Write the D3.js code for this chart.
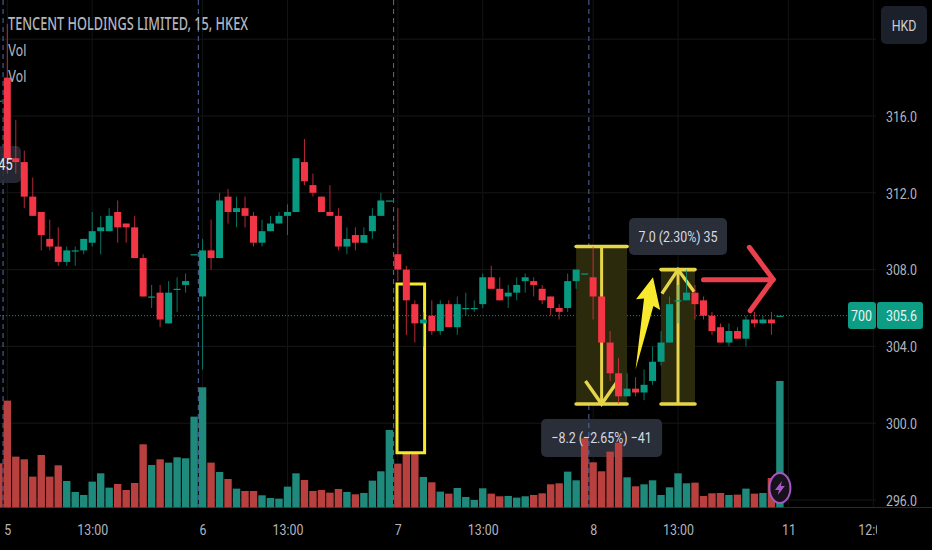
<!DOCTYPE html>
<html>
<head>
<meta charset="utf-8">
<script src="https://d3js.org/d3.v7.min.js"></script>
<style>
  html, body { margin: 0; padding: 0; background: #000; overflow: hidden; }
  svg { display: block; }
  text { font-family: Roboto, sans-serif; }
</style>
</head>
<body>
<div id="chart"></div>
<script>
// bars run from -1 (last bar of the previous session) to 91
const opens = [316.8,
  318.0,313.8,313.6,311.8,311.0,309.6,309.2,308.4,309.0,309.0,
  309.4,310.0,310.0,311.0,310.4,310.2,308.6,306.6,306.8,305.2,
  307.0,307.2,308.8,306.6,309.0,308.6,311.8,311.0,311.2,310.8,
  309.4,310.0,310.4,310.8,311.0,313.6,312.4,311.8,311.0,310.8,
  309.2,309.8,309.4,310.0,310.8,311.6,308.8,308.0,306.2,305.2,
  305.6,304.8,306.2,305.0,306.0,306.0,306.2,307.6,307.0,306.6,
  306.8,307.4,307.4,307.0,306.6,306.0,306.0,307.4,307.8,307.6,
  306.6,304.2,302.6,301.4,301.8,301.6,302.2,303.2,304.2,306.4,
  306.4,306.8,306.4,305.6,305.0,304.2,304.8,304.4,305.4,305.2,
  305.4,305.6];
const highs = [316.8,
  320.8,315.8,314.2,312.8,311.0,310.6,310.2,309.2,309.2,309.6,
  311.0,310.8,311.2,311.6,310.4,310.8,308.8,307.2,307.2,307.4,
  307.6,307.8,308.8,309.6,310.6,312.0,312.2,311.8,311.8,311.0,
  310.6,310.8,311.0,311.4,313.8,314.8,313.0,311.8,312.4,311.2,
  310.2,310.2,310.2,311.2,312.0,311.6,311.2,308.2,306.4,305.8,
  306.4,306.4,306.4,306.6,306.8,306.4,307.8,308.2,307.6,307.2,
  307.6,307.8,307.6,307.2,306.6,306.2,307.8,308.0,307.8,309.2,
  306.6,304.8,303.4,302.6,302.4,302.8,304.0,304.8,306.6,307.2,
  308.0,307.2,306.6,305.8,305.2,305.2,305.0,305.6,305.8,305.6,
  305.8,305.6];
const lows = [316.8,
  313.0,313.0,311.2,310.8,309.0,309.0,308.2,308.2,308.2,308.8,
  309.2,308.8,310.0,309.4,309.4,308.6,306.6,306.0,305.0,305.2,
  305.8,306.8,308.8,302.8,308.0,308.6,310.4,310.2,310.2,309.2,
  309.2,310.0,310.4,309.8,311.0,312.4,311.8,311.0,310.8,309.0,
  308.8,309.0,309.4,309.6,310.8,311.6,307.4,304.6,304.2,304.0,
  304.6,304.6,305.0,304.6,305.6,305.8,306.0,307.0,306.4,306.0,
  306.4,306.8,306.6,306.2,305.6,305.4,305.8,307.0,307.8,305.4,
  304.2,302.2,301.0,301.4,301.4,301.2,302.0,303.0,304.2,305.2,
  306.4,305.4,305.4,304.6,304.2,304.0,304.4,304.0,305.0,305.2,
  304.6,305.6];
const closes = [316.8,
  313.8,313.6,311.8,310.8,309.8,309.2,308.4,309.0,309.0,309.6,
  310.0,310.2,310.8,310.2,310.2,308.6,306.6,306.6,305.4,306.8,
  307.0,307.4,308.8,309.0,308.6,311.6,311.0,311.2,310.8,309.4,
  310.0,310.4,310.8,311.0,313.8,312.6,312.0,311.0,310.8,309.2,
  309.6,309.4,309.8,310.8,311.6,311.6,308.0,306.4,305.2,305.4,
  304.8,306.2,305.0,306.2,306.0,306.0,307.6,307.0,306.4,306.8,
  307.2,307.6,307.2,306.4,306.0,305.8,307.4,308.0,307.8,306.6,
  304.2,302.6,301.4,301.8,301.6,302.0,303.2,304.2,306.2,306.4,
  306.8,306.2,305.6,304.8,304.2,304.8,304.4,305.4,305.2,305.4,
  305.2,305.6];
const volumes = [132,
  320,152,144,92,157,92,126,79,46,37,
  77,102,59,70,52,73,189,127,144,134,
  150,147,272,360,134,106,85,56,49,49,
  36,28,26,62,102,82,49,52,44,55,
  46,39,43,80,108,232,131,162,164,91,
  75,47,41,58,31,22,57,41,33,34,
  29,33,37,42,69,72,107,81,207,135,
  108,167,194,90,63,69,81,37,60,102,
  72,74,34,42,43,37,38,56,41,43,
  88,379];
// flat bars whose volume was painted red
const redVolumeBars = [-1, 68];

const priceTicks = [320, 316, 312, 308, 304, 300, 296];
const timeBars = [0, 10, 23, 33, 46, 56, 69, 79, 92, 102];
const timeLabels = ["5", "13:00", "6", "13:00", "7", "13:00", "8", "13:00", "11", "12:00"];
const sessionBreaks = [-0.5, 22.5, 45.5, 68.5];

const titleText = "TENCENT HOLDINGS LIMITED, 15, HKEX";
const lastPrice = 305.6;

// measure tools drawn on the chart
const drop = {from: 67, to: 73, mid: 70, top: 309.2, bottom: 301.0, label: "\u22128.2 (\u22122.65%) \u221241"};
const rise = {from: 77, to: 81, mid: 79, top: 308.0, bottom: 301.0, label: "7.0 (2.30%) 35"};
const yellowBox = {from: 45.9, to: 49.15, top: 307.25, bottom: 298.46};
const yellowArrow = [[74.0,302.8],[75.0,306.5],[74.05,306.45],[76.05,307.6],[76.9,305.9],[76.1,306.1]];
const redShaft = [[82.0,307.47],[90.2,307.47]];
const redHead = [[87.4,309.16],[90.2,307.5],[87.5,305.86]];

const width = 932, height = 550;
const up = "#089981", down = "#f23645";
const volUp = "#1f8a7c", volDown = "#b8413f";

const svg = d3.select("#chart").append("svg").attr("width", width).attr("height", height);
svg.append("rect").attr("width", width).attr("height", height).attr("fill", "#000");

const x = d3.scaleLinear().domain([0, 91]).range([7.3, 779.9]);
const y = d3.scaleLinear().domain([296, 316]).range([500, 116]);
const vy = d3.scaleLinear().domain([0, 360]).range([507.3, 387.3]);

const isUp = i => closes[i] >= opens[i];
const volIsUp = i => isUp(i) && !redVolumeBars.includes(i - 1);

// grid
svg.append("g").selectAll("line").data(priceTicks).enter().append("line")
  .attr("x1", 0).attr("x2", 876).attr("y1", d => y(d)).attr("y2", d => y(d))
  .attr("stroke", "#171717");
svg.append("g").selectAll("line").data(timeBars).enter().append("line")
  .attr("x1", d => x(d)).attr("x2", d => x(d)).attr("y1", 0).attr("y2", 507)
  .attr("stroke", "#141414");
svg.append("line").attr("x1", 0).attr("x2", width).attr("y1", 507.5).attr("y2", 507.5)
  .attr("stroke", "#2c2c2c");

// label of the drop sits under the volume bars, its text goes above them
function labelBox(tool, w, h, top) {
  svg.append("rect")
    .attr("x", x(tool.mid) - w / 2).attr("y", top).attr("width", w).attr("height", h)
    .attr("rx", 5).attr("fill", "#2a2e39");
}
labelBox(drop, 121, 38, 419);

// volume
svg.append("g").selectAll("rect").data(volumes).enter().append("rect")
  .attr("x", (d, i) => x(i - 1) - 3.7)
  .attr("width", 7.4)
  .attr("y", d => vy(d))
  .attr("height", d => vy(0) - vy(d))
  .attr("fill", (d, i) => volIsUp(i) ? volUp : volDown);

// session breaks
svg.append("g").selectAll("line").data(sessionBreaks).enter().append("line")
  .attr("x1", d => x(d)).attr("x2", d => x(d)).attr("y1", 0).attr("y2", 507)
  .attr("stroke", "#4f6ea8").attr("stroke-dasharray", "5,4");

// current price line
svg.append("line").attr("x1", 0).attr("x2", 876).attr("y1", y(lastPrice)).attr("y2", y(lastPrice))
  .attr("stroke", "#089981").attr("stroke-dasharray", "1,2");

// drawings
function measure(tool) {
  const g = svg.append("g");
  const yellow = "#e6d548";
  g.append("rect")
    .attr("x", x(tool.from)).attr("width", x(tool.to) - x(tool.from))
    .attr("y", y(tool.top)).attr("height", y(tool.bottom) - y(tool.top))
    .attr("fill", "#2c2a0d");
  [tool.top, tool.bottom].forEach(p => {
    g.append("line").attr("x1", x(tool.from)).attr("x2", x(tool.to))
      .attr("y1", y(p)).attr("y2", y(p))
      .attr("stroke", yellow).attr("stroke-width", 3.6).attr("stroke-linecap", "round");
  });
  g.append("line").attr("x1", x(tool.mid)).attr("x2", x(tool.mid))
    .attr("y1", y(tool.top)).attr("y2", y(tool.bottom))
    .attr("stroke", yellow).attr("stroke-width", 3);
  return g;
}
const line = d3.line().x(d => x(d[0])).y(d => y(d[1]));
const dropTool = measure(drop);
dropTool.append("path")
  .attr("d", line([[68.1, 302.2], [drop.mid, drop.bottom], [71.9, 302.2]]))
  .attr("fill", "none").attr("stroke", "#e6d548").attr("stroke-width", 3.4);
const riseTool = measure(rise);
riseTool.append("path")
  .attr("d", line([[77.1, 306.75], [rise.mid, rise.top], [80.9, 306.85]]))
  .attr("fill", "none").attr("stroke", "#e6d548").attr("stroke-width", 3.4);

svg.append("rect")
  .attr("x", x(yellowBox.from)).attr("width", x(yellowBox.to) - x(yellowBox.from))
  .attr("y", y(yellowBox.top)).attr("height", y(yellowBox.bottom) - y(yellowBox.top))
  .attr("fill", "none").attr("stroke", "#f5e92c").attr("stroke-width", 3);

svg.append("path").attr("d", line(yellowArrow) + "Z").attr("fill", "#f8e92e");
[redShaft, redHead].forEach(pts => {
  svg.append("path").attr("d", line(pts))
    .attr("fill", "none").attr("stroke", "#ec3f4d").attr("stroke-width", 5)
    .attr("stroke-linecap", "round").attr("stroke-linejoin", "miter");
});

// price label on the far left, cut by the edge
svg.append("rect").attr("x", -10).attr("y", 146).attr("width", 31).attr("height", 37)
  .attr("rx", 5).attr("fill", "#2a2e39").attr("opacity", 0.85);

// candles
const candles = svg.append("g").selectAll("g").data(closes).enter().append("g");
candles.append("line")
  .attr("x1", (d, i) => x(i - 1)).attr("x2", (d, i) => x(i - 1))
  .attr("y1", (d, i) => y(highs[i])).attr("y2", (d, i) => y(lows[i]))
  .attr("stroke", (d, i) => isUp(i) ? up : down).attr("stroke-opacity", 0.75);
candles.append("rect")
  .attr("x", (d, i) => x(i - 1) - 3.5)
  .attr("width", 7)
  .attr("y", (d, i) => y(Math.max(opens[i], closes[i])))
  .attr("height", (d, i) => Math.max(1.2, Math.abs(y(opens[i]) - y(closes[i]))))
  .attr("fill", (d, i) => isUp(i) ? up : down);

// narrow text, the picture is squeezed sideways
function label(txt, cx, cy, size, color, anchor) {
  return svg.append("text")
    .attr("transform", "translate(" + cx + "," + cy + ") scale(0.8,1)")
    .attr("text-anchor", anchor || "middle")
    .attr("dominant-baseline", "central")
    .style("font-size", size + "px")
    .attr("fill", color)
    .text(txt);
}

svg.append("clipPath").attr("id", "timeClip").append("rect")
  .attr("x", -10).attr("y", 510).attr("width", 887).attr("height", 40);

// axes
const priceAxis = svg.append("g").attr("transform", "translate(901.5,0)")
  .call(d3.axisRight(y).tickValues(priceTicks).tickSize(0).tickPadding(0)
    .tickFormat(d => d === 320 ? "" : d3.format(".1f")(d)));
priceAxis.select(".domain").remove();
priceAxis.selectAll("text")
  .attr("x", 0).attr("dy", "0.34em").attr("text-anchor", "middle")
  .attr("transform", "scale(0.8,1)")
  .style("font-size", "15.5px").attr("fill", "#b2b5be");

const timeAxis = svg.append("g").attr("clip-path", "url(#timeClip)")
  .append("g").attr("transform", "translate(0,507)")
  .call(d3.axisBottom(x).tickValues(timeBars).tickSize(0).tickPadding(0)
    .tickFormat((d, i) => timeLabels[i]));
timeAxis.select(".domain").remove();
timeAxis.selectAll("text")
  .attr("y", 22.5).attr("dy", "0.34em")
  .attr("transform", "scale(0.8,1)")
  .style("font-size", "15.5px").attr("fill", "#b2b5be");

// legend
svg.append("text").attr("x", 8).attr("y", 30)
  .attr("textLength", 240).attr("lengthAdjust", "spacingAndGlyphs")
  .style("font-family", "'Noto Sans', sans-serif").style("font-weight", 500).style("font-size", "18px")
  .attr("fill", "#b2b5be").text(titleText);
label("Vol", 8, 51, 16, "#b2b5be", "start");
label("Vol", 8, 77, 16, "#b2b5be", "start");

label("45", 5.5, 165, 16, "#e6e7ea");

// HKD button
svg.append("rect").attr("x", 881).attr("y", 6).attr("width", 46).attr("height", 38)
  .attr("rx", 5).attr("fill", "#1c202a");
label("HKD", 904, 25, 15.5, "#c9ccd4");

// last price labels
svg.append("rect").attr("x", 848).attr("y", 302).attr("width", 28).attr("height", 27).attr("rx", 3).attr("fill", "#0d9c84");
svg.append("rect").attr("x", 877).attr("y", 302).attr("width", 46).attr("height", 27).attr("rx", 3).attr("fill", "#0d9c84");
label("700", 861.5, 315.5, 15.5, "#e8f5f1");
label("305.6", 901.5, 315.5, 15.5, "#e8f5f1");

// measure labels
labelBox(rise, 98, 37, 218);
label(rise.label, 678, 236.5, 15.5, "#d8dae0");
label(drop.label, x(drop.mid), 437, 15.5, "#d8dae0");

// lightning badge on the last bar
const badge = svg.append("g").attr("transform", "translate(" + x(91) + ",488)");
badge.append("ellipse").attr("rx", 10.5).attr("ry", 15).attr("fill", "#17111c")
  .attr("stroke", "#a557c4").attr("stroke-width", 2);
badge.append("path").attr("d", "M2,-7L-5,2L-1,2L-2,7L5,-2L1,-2Z").attr("fill", "#a557c4");
</script>
</body>
</html>
